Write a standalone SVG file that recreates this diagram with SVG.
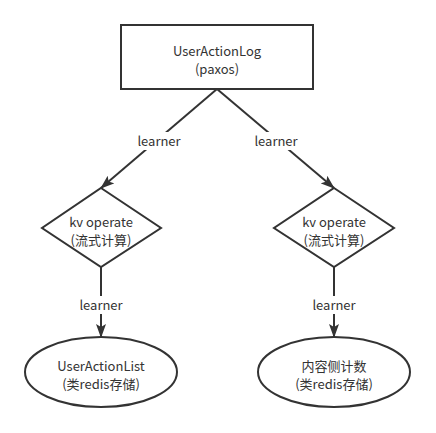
<svg xmlns="http://www.w3.org/2000/svg" width="436" height="433" viewBox="0 0 436 433">
<defs>
<style>
.s{fill:#fff;stroke:#333;stroke-width:2}
.t{font-family:"Noto Sans CJK SC","Noto Sans",sans-serif;font-size:13px;fill:#333;text-anchor:middle}
.c{stroke:#333;stroke-width:2;fill:none}
.lb{fill:#fff}
</style>
<marker id="a" viewBox="0 0 14 10" refX="13" refY="5" markerWidth="14" markerHeight="10" markerUnits="userSpaceOnUse" orient="auto">
<path d="M0,0 L14,5 L0,10 L3,5 Z" fill="#333"/>
</marker>
</defs>
<rect width="436" height="433" fill="#fff"/>
<g id="connectors">
<path class="c" d="M217,89 L101,188" marker-end="url(#a)"/>
<path class="c" d="M217,89 L334,188" marker-end="url(#a)"/>
<path class="c" d="M101,267 L101,337" marker-end="url(#a)"/>
<path class="c" d="M334,267 L334,337" marker-end="url(#a)"/>
<rect class="lb" x="135" y="132" width="48" height="18"/>
<text class="t" x="159" y="146">learner</text>
<rect class="lb" x="252" y="132" width="48" height="18"/>
<text class="t" x="276" y="146">learner</text>
<rect class="lb" x="77" y="296" width="48" height="18"/>
<text class="t" x="101" y="310">learner</text>
<rect class="lb" x="310" y="296" width="48" height="18"/>
<text class="t" x="334" y="310">learner</text>
</g>
<g id="log">
<rect class="s" x="121" y="25" width="192" height="64"/>
<text class="t" x="217" y="56">UserActionLog</text>
<text class="t" x="217" y="74">(paxos)</text>
</g>
<g id="kv1">
<path class="s" d="M101,188 L161,228 L101,267 L42,228 Z"/>
<text class="t" x="101" y="227">kv operate</text>
<text class="t" x="101" y="245">(流式计算)</text>
</g>
<g id="kv2">
<path class="s" d="M334,188 L394,228 L334,267 L274,228 Z"/>
<text class="t" x="334" y="227">kv operate</text>
<text class="t" x="334" y="245">(流式计算)</text>
</g>
<g id="list">
<ellipse class="s" cx="101" cy="372" rx="76" ry="35"/>
<text class="t" x="101" y="371">UserActionList</text>
<text class="t" x="101" y="389">(类redis存储)</text>
</g>
<g id="count">
<ellipse class="s" cx="334" cy="372" rx="76" ry="35"/>
<text class="t" x="334" y="371">内容侧计数</text>
<text class="t" x="334" y="389">(类redis存储)</text>
</g>
</svg>
